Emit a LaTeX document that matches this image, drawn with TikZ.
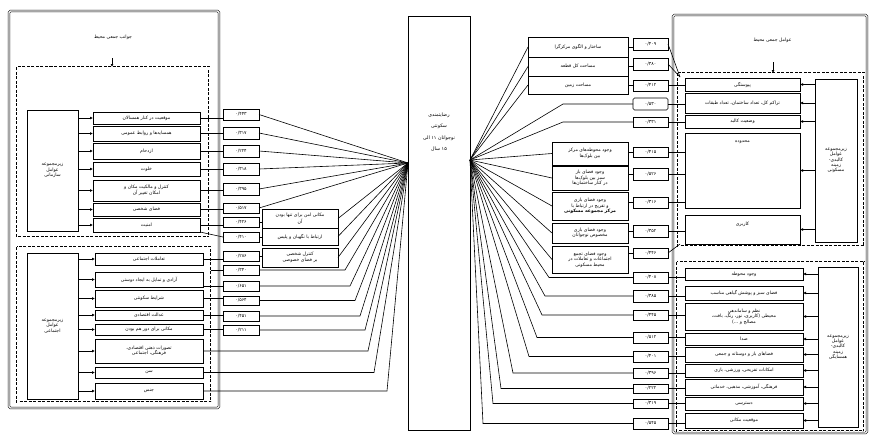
\documentclass[tikz,border=0pt]{standalone}
\usepackage{fontspec}
\usetikzlibrary{arrows.meta,calc}
\newfontfamily\arabicfont[Script=Arabic]{DejaVu Sans}
\TeXXeTstate=1
\newcommand\RL[1]{\beginR #1\endR}
\newcommand\bx[7][]{\node[pb,#1,minimum width={(#5-#3)*1pt},minimum height={(#6-#4)*1pt}] (#2) at ({(#3+#5)/2},{(#4+#6)/2}) {#7};}
\begin{document}
\begin{tikzpicture}[x=1pt,y=-1pt,
  font=\arabicfont\fontsize{4.6}{5.4}\selectfont,
  pb/.style={draw, line width=0.9pt, inner sep=0pt, outer sep=0pt, align=center, fill=white},
  cb/.style={line width=0.65pt},
  conn/.style={line width=0.6pt, black},
  arr/.style={conn, -{Latex[length=3pt,width=3pt]}},
  dbox/.style={draw, dash pattern=on 3pt off 1.5pt, double, double distance=0.8pt, line width=0.7pt},
  dbl/.style={draw, double, double distance=1.3pt, line width=0.55pt}]
\fill[white] (0,0) rectangle (870,434);
\useasboundingbox (0,0) rectangle (870,434);

% ---------------- LEFT PANEL ----------------
\draw[dbl, rounded corners=1.5pt] (9,11) rectangle (219,408);
\draw[dbox] (17,67) rectangle (209,237);
\draw[dbox] (17,247) rectangle (211,402);
\bx[dbl]{LT}{16}{16}{210}{58}{\RL{جوانب جمعی محیط}}
\draw[arr] (LT.south -| 112,0) -- (112,67);

\bx{L1}{27}{110}{78}{231}{\RL{زیرمجموعه}\\\RL{عوامل}\\\RL{سازمانی}}
\bx{i1}{93}{112}{200}{124}{\RL{موقعیت در کنار همسالان}}
\bx{i2}{93}{126}{200}{141}{\RL{همسایه‌ها و روابط عمومی}}
\bx{i3}{93}{143}{200}{159}{\RL{ازدحام}}
\bx{i4}{93}{162}{200}{176}{\RL{خلوت}}
\bx{i5}{93}{180}{200}{201}{\RL{کنترل و مالکیت مکان و}\\\RL{امکان تغییر آن}}
\bx{i6}{93}{203}{200}{216}{\RL{فضای شخصی}}
\bx{i7}{93}{218}{200}{232}{\RL{امنیت}}
\foreach \n in {i1,i2,i3,i4,i5,i6,i7} \draw[arr] (L1.east |- \n.west) -- (\n.west);

\bx{L2}{27}{253}{78}{399}{\RL{زیرمجموعه}\\\RL{عوامل}\\\RL{اجتماعی}}
\bx{g1}{95}{253}{203}{265}{\RL{تعاملات اجتماعی}}
\bx{g2}{95}{272}{203}{287}{\RL{آزادی و تمایل به ایجاد دوستی}}
\bx{g3}{95}{290}{203}{307}{\RL{شرایط سکونتی}}
\bx{g4}{95}{310}{203}{320}{\RL{عدالت اقتصادی}}
\bx{g5}{95}{324}{203}{335}{\RL{مکانی برای دور هم بودن}}
\bx{g6}{95}{339}{203}{363}{\RL{تصورات ذهنی اقتصادی،}\\\RL{فرهنگی، اجتماعی}}
\bx{g7}{95}{367}{203}{378}{\RL{سن}}
\bx{g8}{95}{383}{203}{399}{\RL{جنس}}
\foreach \n in {g1,g2,g3,g4,g5,g6,g7,g8} \draw[arr] (L2.east |- \n.west) -- (\n.west);

% left code boxes
\bx[cb]{c1}{223}{109}{259}{120}{۰/۴۴۳}
\bx[cb]{c2}{223}{127}{259}{139}{۰/۳۱۷}
\bx[cb]{c3}{223}{145}{259}{157}{۰/۲۲۴}
\bx[cb]{c4}{223}{163}{259}{175}{۰/۳۱۸}
\bx[cb]{c5}{223}{183}{259}{195}{۰/۳۹۵}
\bx[cb]{c6}{223}{203}{259}{213}{۰/۵۱۷}
\bx[cb]{c7}{223}{217}{259}{227}{۰/۴۲۶}
\bx[cb]{c8}{223}{232}{259}{242}{۰/۴۱۰}
\bx[cb]{c9}{223}{251}{259}{261}{۰/۲۸۶}
\bx[cb]{c10}{223}{265}{259}{275}{۰/۳۴۰}
\bx[cb]{c11}{223}{281}{259}{291}{۰/۶۵۱}
\bx[cb]{c12}{223}{296}{259}{305}{۰/۵۶۴}
\bx[cb]{c13}{223}{311}{259}{321}{۰/۴۵۱}
\bx[cb]{c14}{223}{325}{259}{335}{۰/۲۱۱}

% middle boxes
\bx[cb]{m1}{262}{209}{338}{228}{\RL{مکانی امن برای تنها بودن}\\\RL{آن}}
\bx[cb]{m2}{262}{228}{338}{245}{\RL{ارتباط با نگهبان و پلیس}}
\bx[cb]{m3}{262}{248}{338}{267}{\RL{کنترل شخصی}\\\RL{بر فضای خصوصی}}

% centre box
\bx[cb]{C}{408}{16}{470}{430}{}
\node[align=center, font=\arabicfont\fontsize{4.8}{11.5}\selectfont] (Ct) at (439,132)
  {\RL{رضایتمندی}\\\RL{سکونتی}\\\RL{نوجوانان ۱۱ الی}\\\RL{۱۵ سال}};
\coordinate (cl) at (408,163);
\coordinate (cr) at (470,160);

% left connectors
\foreach \a/\b in {i1/c1,i2/c2,i3/c3,i4/c4,i5/c5,i6/c6,i7/c7,g1/c9,g3/c12,g4/c13,g5/c14}
  \draw[conn] (\a.east) -- (\a.east -| \b.west);
\draw[conn] (c11.west) -- (c11.west -| g2.east);
\draw[conn] (c8.west) -- (i7.south east);
\draw[conn] (c10.west) -- (c10.west -| 211,0);
\foreach \n in {c1,c2,c3,c4,c5,c6,m1,m2,m3} \draw[conn] (\n.east) -- (cl);
\draw[conn] (c7.east) -- (c7.east -| m1.west);
\draw[conn] (c8.east) -- (c8.east -| m2.west);
\draw[conn] (c9.east) -- (c9.east -| m3.west);
\draw[conn] (c10.east) -- (345,0 |- c10.east) -- (cl);
\draw[conn] (c11.east) -- (350,0 |- c11.east) -- (cl);
\draw[conn] (c12.east) -- (355,0 |- c12.east) -- (cl);
\draw[conn] (c13.east) -- (360,0 |- c13.east) -- (cl);
\draw[conn] (c14.east) -- (365,0 |- c14.east) -- (cl);
\draw[conn] (g6.east) -- (368,0 |- g6.east) -- (cl);
\draw[conn] (g7.east) -- (374,0 |- g7.east) -- (cl);
\draw[conn] (g8.east) -- (387,0 |- g8.east) -- (cl);

% ---------------- RIGHT PANEL ----------------
\draw[dbl, rounded corners=1.5pt] (673,15) rectangle (867,433);
\draw[dbox] (678,73) rectangle (864,246);
\draw[dbox] (677,262) rectangle (864,431);
\bx[dbl]{RT}{683}{19}{862}{62}{\RL{عوامل جمعی محیط}}
\draw[arr] (773,0 |- RT.south) -- (773,73);

\bx{R1}{815}{79}{857}{242}{\RL{زیرمجموعه}\\\RL{عوامل}\\\RL{کالبدی-}\\\RL{زمینه}\\\RL{مسکونی}}
\bx{ri1}{685}{78}{800}{91}{\RL{پیوستگی}}
\bx{ri2}{685}{93}{800}{113}{\RL{تراکم کل، تعداد ساختمان، تعداد طبقات}}
\bx{ri3}{685}{115}{800}{128}{\RL{وضعیت کالبد}}
\bx[label={[anchor=north, inner sep=0pt, yshift=-7pt]north:\RL{محدوده}}]{ri4}{685}{133}{800}{208}{}
\bx[label={[anchor=north, inner sep=0pt, yshift=-7pt]north:\RL{کاربری}}]{ri5}{685}{215}{800}{244}{}
\foreach \n in {ri1,ri2,ri3,ri4,ri5} \draw[arr] (R1.west |- \n.east) -- (\n.east);

\bx{R2}{818}{267}{858}{427}{\RL{زیرمجموعه}\\\RL{عوامل}\\\RL{کالبدی-}\\\RL{زمینه}\\\RL{همسایگی}}
\bx{r1}{685}{268}{803}{280}{\RL{وجود محوطه}}
\bx{r2}{685}{286}{803}{300}{\RL{فضای سبز و پوشش گیاهی مناسب}}
\bx{r3}{685}{303}{803}{330}{\RL{نظم و ساماندهی}\\\RL{محیطی (کاربری، نور، رنگ، بافت،}\\\RL{مصالح و ...)}}
\bx{r4}{685}{333}{803}{345}{\RL{صدا}}
\bx{r5}{685}{347}{803}{362}{\RL{فضاهای باز و دوستانه و جمعی}}
\bx{r6}{685}{364}{803}{377}{\RL{امکانات تفریحی، ورزشی، بازی}}
\bx{r7}{685}{379}{803}{395}{\RL{فرهنگی، آموزشی، مذهبی، خدماتی}}
\bx{r8}{685}{397}{803}{410}{\RL{دسترسی}}
\bx{r9}{685}{413}{803}{428}{\RL{موقعیت مکانی}}
\foreach \n in {r1,r2,r3,r4,r5,r6,r7,r8,r9} \draw[arr] (R2.west |- \n.east) -- (\n.east);

% right code boxes
\bx[cb]{rc1}{633}{38}{668}{50}{۰/۴۰۹}
\bx[cb]{rc2}{633}{58}{668}{70}{۰/۳۸۰}
\bx[cb]{rc3}{633}{80}{668}{91}{۰/۴۱۲}
\bx[cb,rounded corners=1.5pt]{rc4}{633}{98}{668}{110}{۰/۵۳۰}
\bx[cb]{rc5}{633}{117}{668}{127}{۰/۳۳۱}
\bx[cb]{rc6}{633}{147}{668}{157}{۰/۴۱۵}
\bx[cb]{rc7}{633}{168}{668}{180}{۰/۵۲۶}
\bx[cb]{rc8}{633}{197}{668}{208}{۰/۳۱۶}
\bx[cb]{rc9}{633}{225}{668}{237}{۰/۳۵۲}
\bx[cb]{rc10}{633}{248}{668}{258}{۰/۴۴۶}
\bx[cb]{rc11}{633}{272}{668}{283}{۰/۴۰۸}
\bx[cb]{rc12}{633}{290}{668}{302}{۰/۳۸۵}
\bx[cb]{rc13}{633}{310}{668}{320}{۰/۴۴۵}
\bx[cb]{rc14}{633}{332}{668}{343}{۰/۵۱۲}
\bx[cb]{rc15}{633}{351}{668}{362}{۰/۴۰۱}
\bx[cb]{rc16}{633}{368}{668}{378}{۰/۳۹۶}
\bx[cb]{rc17}{633}{384}{668}{393}{۰/۲۲۲}
\bx[cb]{rc18}{633}{399}{668}{408}{۰/۳۱۹}
\bx[cb]{rc19}{633}{418}{668}{429}{۰/۵۴۵}

% right text boxes
\bx[cb]{rb1}{528}{37}{628}{57}{\RL{ساختار و الگوی مرکزگرا}}
\bx[cb]{rb2}{528}{57}{628}{76}{\RL{مساحت کل قطعه}}
\bx[cb]{rb3}{528}{76}{628}{94}{\RL{مساحت زمین}}
\bx[cb]{mb1}{552}{142}{628}{165}{\RL{وجود محوطه‌های مرکز}\\\RL{بین بلوک‌ها}}
\bx[cb]{mb2}{552}{166}{628}{190}{\RL{وجود فضای باز}\\\RL{سبز بین بلوک‌ها}\\\RL{در کنار ساختمان‌ها}}
\bx[cb]{mb3}{552}{192}{628}{220}{\RL{وجود فضای بازی}\\\RL{و تفریح در ارتباط با}\\\textbf{\RL{مرکز مجموعه مسکونی}}}
\bx[cb]{mb4}{552}{223}{628}{243}{\RL{وجود فضای بازی}\\\RL{مخصوص نوجوانان}}
\bx[cb]{mb5}{552}{246}{628}{273}{\RL{وجود فضای تجمع}\\\RL{اجتماعات و تعاملات در}\\\RL{محیط مسکونی}}

% right connectors
\foreach \n in {rb1,rb2,rb3,mb1,mb2,mb3,mb4,mb5} \draw[conn] (cr) -- (\n.west);
\foreach \a/\b in {rb1/rc1,rb2/rc2,rb3/rc3} \draw[conn] (\a.east) -- (\a.east -| \b.west);
\foreach \a/\b in {rc6/mb1,rc7/mb2,rc8/mb3,rc9/mb4,rc10/mb5} \draw[conn] (\a.west) -- (\a.west -| \b.east);
\draw[conn] (cr) -- (563,0 |- rc4.west) -- (rc4.west);
\draw[conn] (cr) -- (563,0 |- rc5.west) -- (rc5.west);
\draw[conn] (cr) -- (549,0 |- rc11.west) -- (rc11.west);
\draw[conn] (cr) -- (545,0 |- rc12.west) -- (rc12.west);
\draw[conn] (cr) -- (542,0 |- rc13.west) -- (rc13.west);
\draw[conn] (cr) -- (537,0 |- rc14.west) -- (rc14.west);
\draw[conn] (cr) -- (529,0 |- rc15.west) -- (rc15.west);
\draw[conn] (cr) -- (513,0 |- rc16.west) -- (rc16.west);
\draw[conn] (cr) -- (501,0 |- rc17.west) -- (rc17.west);
\draw[conn] (cr) -- (493,0 |- rc18.west) -- (rc18.west);
\draw[conn] (cr) -- (483,0 |- rc19.west) -- (rc19.west);

\coordinate (rj) at (680,77);
\coordinate (rk) at (680,244);
\draw[conn] (rc1.east) -- (rj);
\draw[conn] (rc2.east) -- (rj);
\draw[conn] (rc10.east) -- (rk);
\foreach \a/\b in {rc3/ri1,rc4/ri2,rc5/ri3,rc6/ri4,rc7/ri4,rc8/ri4,rc9/ri5,
  rc11/r1,rc12/r2,rc13/r3,rc14/r4,rc15/r5,rc16/r6,rc17/r7,rc18/r8,rc19/r9}
  \draw[conn] (\a.east) -- (\a.east -| \b.west);
\end{tikzpicture}
\end{document}
